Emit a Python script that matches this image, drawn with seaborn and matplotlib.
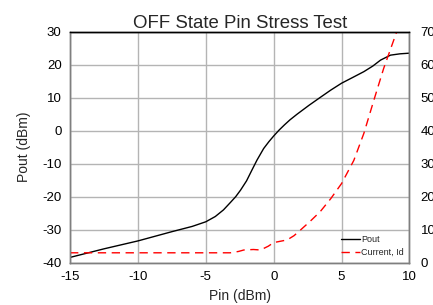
import matplotlib
matplotlib.use("Agg")
import matplotlib.pyplot as plt
import seaborn as sns
import pandas as pd

pin_pout = [-15, -12.5, -10, -7.5, -6, -5, -4.3, -3.7, -3.2, -2.8, -2.44, -2.0, -1.6, -1.23, -0.95, -0.74,
            -0.35, 0, 0.4, 0.8, 1.2, 1.72, 2.6, 3.43, 4.2, 5, 5.8, 6.64, 7.3, 7.87, 8.6, 9.3, 10]
pout = [-38.4, -35.8, -33.4, -30.6, -29.0, -27.6, -26.0, -24.0, -21.8, -20.0, -18.0, -15.2, -11.9, -8.9, -6.9, -5.4,
        -3.3, -1.6, 0.2, 1.8, 3.3, 5.0, 7.7, 10.1, 12.3, 14.4, 16.1, 17.9, 19.6, 21.4, 22.9, 23.3, 23.5]

pin_id = [-15, -10, -5, -3.2, -2.6, -2.2, -1.5, -0.97, -0.4, 0, 0.99, 1.5, 1.97, 2.7, 3.43, 4.2,
          5, 5.9, 6.64, 7.38, 8.1, 9.06, 9.3]
current_id = [3, 3, 3, 3, 3.4, 3.85, 4.0, 3.85, 5.0, 6.1, 6.9, 8.2, 9.9, 12.6, 15.5, 19.4,
              24, 31, 39.2, 49.3, 58.9, 70, 73]

xticks = [-15, -10, -5, 0, 5, 10]
yticks_left = [-40, -30, -20, -10, 0, 10, 20, 30]
yticks_right = [0, 10, 20, 30, 40, 50, 60, 70]

sns.set_style("white")
plt.rcParams['font.family'] = ['Liberation Sans', 'DejaVu Sans']

fig = plt.figure(figsize=(4.33, 3.05), dpi=100)
ax = fig.add_axes([0.1617, 0.1387, 0.7840, 0.7573])
ax2 = ax.twinx()

df1 = pd.DataFrame({"Pin": pin_pout, "Pout": pout})
df2 = pd.DataFrame({"Pin": pin_id, "Id": current_id})

sns.lineplot(data=df1, x="Pin", y="Pout", ax=ax, color="black", linewidth=1.0,
             label="Pout", legend=False)
sns.lineplot(data=df2, x="Pin", y="Id", ax=ax2, color="red", linewidth=1.0,
             linestyle=(0, (6, 4)), label="Current, Id", legend=False)

ax.set_xlim(-15, 10)
ax.set_ylim(-40, 30)
ax2.set_ylim(0, 70)
ax.set_xticks(xticks)
ax.set_yticks(yticks_left)
ax2.set_yticks(yticks_right)
ax.set_xticklabels([str(t) for t in xticks])
ax.set_yticklabels([str(t) for t in yticks_left])
ax2.set_yticklabels([str(t) for t in yticks_right])

ax.grid(True, color="#b4b4b4", linewidth=1.0)
ax2.grid(False)
ax.set_axisbelow(True)

for a in (ax, ax2):
    a.tick_params(length=0, labelsize=9.5, colors="black", pad=6)
    for s in a.spines.values():
        s.set_color("#7f7f7f")
        s.set_linewidth(1.0)
ax2.spines['top'].set_color("black")
ax.spines['top'].set_color("black")
ax2.tick_params(axis='y', pad=8)

ax.set_xlabel("Pin (dBm)", fontsize=10, labelpad=4)
ax.set_ylabel("Pout (dBm)", fontsize=10, labelpad=8)
ax2.set_ylabel("")
ax.set_title("OFF State Pin Stress Test", fontsize=13.4, pad=3)

h1, l1 = ax.get_legend_handles_labels()
h2, l2 = ax2.get_legend_handles_labels()
ax2.legend(h1 + h2, l1 + l2, loc="lower right", frameon=False, fontsize=6.5,
           handlelength=2.0, handletextpad=0.2, borderaxespad=0.2, labelspacing=0.5)

fig.savefig("out.png", dpi=100)
